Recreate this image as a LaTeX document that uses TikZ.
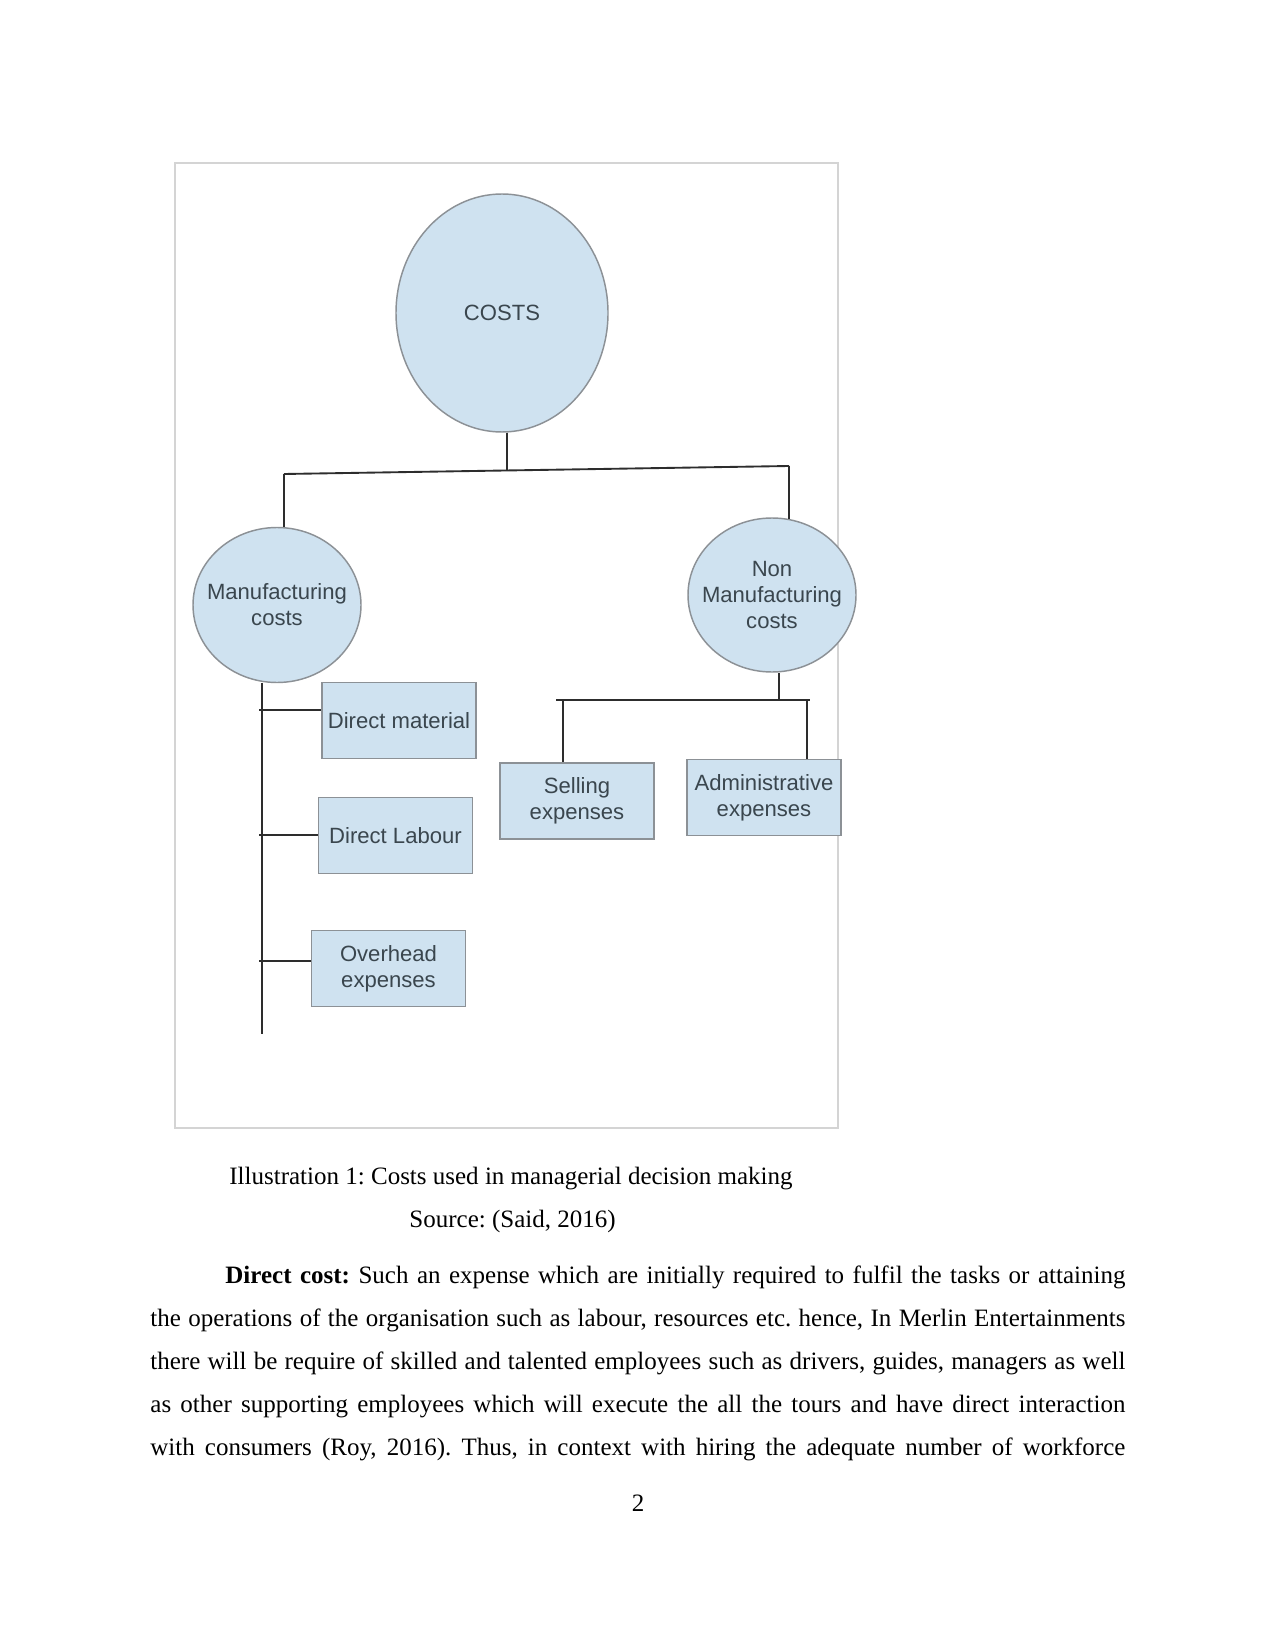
\documentclass[tikz,border=0pt]{standalone}
\usepackage{fontspec}
\setmainfont{Liberation Serif}
\newfontfamily\diagfont{Liberation Sans}
\usetikzlibrary{shapes.geometric}
\definecolor{bubble}{RGB}{207,226,240}
\definecolor{edgegrey}{RGB}{140,145,150}
\definecolor{labelgrey}{RGB}{58,70,78}
\definecolor{framegrey}{RGB}{212,212,212}
\definecolor{linedark}{RGB}{45,45,45}
\frenchspacing
\begin{document}
\begin{tikzpicture}[x=0.48pt,y=-0.48pt,
  oval/.style={ellipse, draw=edgegrey, fill=bubble, line width=0.7pt, inner sep=0pt},
  ovaltext/.style={font=\diagfont\fontsize{10.6}{12.4}\selectfont, text=labelgrey, align=center, inner sep=0pt},
  box/.style={rectangle, draw=edgegrey, fill=bubble, line width=0.7pt, minimum width=73.92pt, minimum height=36.48pt, inner sep=0pt, font=\diagfont\fontsize{10.6}{12.4}\selectfont, text=labelgrey, align=center},
  conn/.style={draw=linedark, line width=0.9pt},
  bodyline/.style={anchor=base west, inner sep=0pt, font=\frenchspacing\fontsize{12}{14}\selectfont},
  centreline/.style={anchor=base, inner sep=0pt, font=\fontsize{12}{14}\selectfont}
]
\useasboundingbox[fill=white] (0,0) rectangle (1275,1650);

% frame
\draw[framegrey, line width=0.8pt] (175,163) rectangle (838,1128);

% nodes
\node[oval, minimum width=101.76pt, minimum height=114.24pt,
      label={[ovaltext]center:COSTS}] (costs) at (502,313) {};
\node[oval, minimum width=80.64pt, minimum height=74.4pt,
      label={[ovaltext]center:Manufacturing\\costs}] (mfg) at (277,605) {};
\node[oval, minimum width=80.64pt, minimum height=73.92pt,
      label={[ovaltext]center:Non\\Manufacturing\\costs}] (nmf) at (772,595) {};

\node[box] (dm) at (399,720.5) {Direct material};
\node[box] (dl) at (395.5,835.5) {Direct Labour};
\node[box] (oh) at (388.5,968.5) {Overhead\\expenses};
\node[box] (sell) at (577,801) {Selling\\expenses};
\node[box] (adm) at (764,797.5) {Administrative\\expenses};

% connector coordinates
\coordinate (cmid) at (507,470.5);
\coordinate (cl) at (284,474);
\coordinate (cr) at (789,466);
\coordinate (mend) at (262,1034);
\coordinate (t1) at (259,710);
\coordinate (t2) at (259,835);
\coordinate (t3) at (259,961);
\coordinate (nbar) at (779,700);
\coordinate (nl) at (556,700);
\coordinate (nr) at (810,700);
\coordinate (sx) at (563,700);
\coordinate (ax) at (807,700);

% top tree
\draw[conn] (cmid |- costs.south) -- (cmid);
\draw[conn] (cl) -- (cr);
\draw[conn] (cl) -- (cl |- mfg.north);
\draw[conn] (cr) -- ([yshift=-1pt]cr |- nmf.north);

% manufacturing branch
\draw[conn] (mend |- mfg.south) -- (mend);
\draw[conn] (t1) -- (t1 -| dm.west);
\draw[conn] (t2) -- (t2 -| dl.west);
\draw[conn] (t3) -- (t3 -| oh.west);

% non-manufacturing branch
\draw[conn] (nbar |- nmf.south) -- (nbar);
\draw[conn] (nl) -- (nr);
\draw[conn] (sx) -- (sx |- sell.north);
\draw[conn] (ax) -- (ax |- adm.north);

% caption
\node[bodyline] (cap) at (229,1184) {Illustration 1: Costs used in managerial decision making};
\node[bodyline] (src) at (409,1227) {Source: (Said, 2016)};

% body text
\node[bodyline] (l1) at (225,1283) {\makebox[432pt][s]{\textbf{Direct cost:} Such an expense which are initially required to fulfil the tasks or attaining}};
\node[bodyline] (l2) at (150,1326) {\makebox[468pt][s]{the operations of the organisation such as labour, resources etc. hence, In Merlin Entertainments}};
\node[bodyline] (l3) at (150,1369) {\makebox[468pt][s]{there will be require of skilled and talented employees such as drivers, guides, managers as well}};
\node[bodyline] (l4) at (150,1412) {\makebox[468pt][s]{as other supporting employees which will execute the all the tours and have direct interaction}};
\node[bodyline] (l5) at (150,1455) {\makebox[468pt][s]{with consumers (Roy, 2016). Thus, in context with hiring the adequate number of workforce}};

% page number
\node[centreline] (pg) at (638,1511) {2};
\end{tikzpicture}
\end{document}
